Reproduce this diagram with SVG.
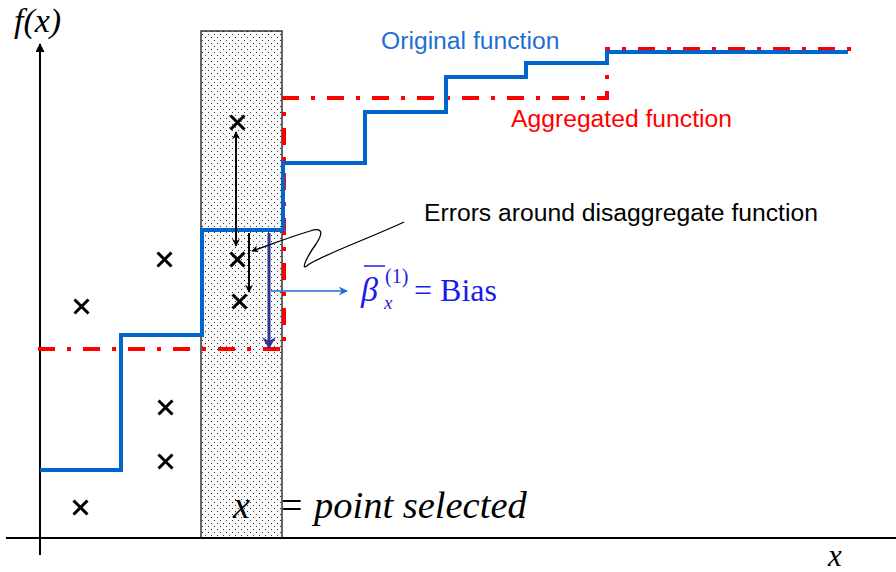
<svg xmlns="http://www.w3.org/2000/svg" width="896" height="572" viewBox="0 0 896 572">
<defs>
<style>
.axis{stroke:#000;stroke-width:2;fill:none}
.orig{stroke:#0066CC;stroke-width:4;fill:none}
.agg{stroke:#FF0000;stroke-width:4;fill:none;stroke-dasharray:17 12 4 12}
.cross{stroke:#000;stroke-width:3;fill:none}
.lbl{font-family:"Liberation Sans",Arial,sans-serif;font-size:24.7px}
.math{font-family:"Liberation Serif","Times New Roman",serif;font-style:italic}
.blk{stroke:#000;stroke-width:2;fill:none}
</style>
<pattern id="dots" width="6" height="6" patternUnits="userSpaceOnUse">
<rect width="6" height="6" fill="#fafafa"/>
<rect x="1" y="1" width="1" height="1" fill="#333"/>
<rect x="4" y="4" width="1" height="1" fill="#333"/>
</pattern>
<marker id="ah" viewBox="0 0 10 10" refX="9" refY="5" markerWidth="10" markerHeight="8" markerUnits="userSpaceOnUse" orient="auto-start-reverse">
<path d="M0,0 L10,5 L0,10 L3,5 z" fill="#000"/>
</marker>
<marker id="ahax" viewBox="0 0 10 10" refX="9" refY="5" markerWidth="12" markerHeight="9" markerUnits="userSpaceOnUse" orient="auto">
<path d="M0,0 L10,5 L0,10 z" fill="#000"/>
</marker>
<marker id="ahnavy" viewBox="0 0 12 14" refX="11" refY="7" markerWidth="18" markerHeight="14" markerUnits="userSpaceOnUse" orient="auto">
<path d="M0,0 L12,7 L0,14 L4,7 z" fill="#333399"/>
</marker>
<marker id="ahblue" viewBox="0 0 10 10" refX="9" refY="5" markerWidth="12" markerHeight="9" markerUnits="userSpaceOnUse" orient="auto">
<path d="M0,0 L10,5 L0,10 L3,5 z" fill="#1F6FD0"/>
</marker>
<marker id="ahthin" viewBox="0 0 10 10" refX="9" refY="5" markerWidth="10" markerHeight="7" markerUnits="userSpaceOnUse" orient="auto">
<path d="M0,0 L10,5 L0,10 L3,5 z" fill="#000"/>
</marker>
</defs>

<rect id="selected-region" x="201" y="31" width="81" height="507" fill="url(#dots)" stroke="#000" stroke-width="1.2"/>

<g id="axes">
<line class="axis" x1="40" y1="555" x2="40" y2="44" marker-end="url(#ahax)"/>
<line class="axis" x1="6" y1="538" x2="896" y2="538"/>
</g>

<g id="aggregated-function">
<polyline class="agg" points="38,349 284,349 284,98 607,98 607,49 854,49"/>
</g>

<g id="original-function">
<polyline class="orig" points="40,470 121,470 121,335 202,335 202,230 283,230 283,163 365,163 365,112 446,112 446,77 526,77 526,63 607,63 607,52 848,52"/>
</g>

<g id="connectors">
<line class="blk" x1="236" y1="132" x2="236" y2="246" marker-start="url(#ah)" marker-end="url(#ah)"/>
<line class="blk" x1="249" y1="233" x2="249" y2="292" marker-end="url(#ah)"/>
<line x1="269" y1="233" x2="269" y2="348" stroke="#333399" stroke-width="3" marker-end="url(#ahnavy)"/>
<line x1="271" y1="291" x2="347" y2="291" stroke="#1F6FD0" stroke-width="1.5" marker-end="url(#ahblue)"/>
<path d="M404 222 C370 238,320 256,308 265 C300 272,306 258,316 244 C324 232,322 227,310 231 C290 237,272 244,252 251" stroke="#000" stroke-width="1.3" fill="none" marker-end="url(#ahthin)"/>
</g>

<g id="points">
<path class="cross" d="M230.5 115.5 L244.5 129.5 M244.5 115.5 L230.5 129.5"/>
<path class="cross" d="M230.5 252.5 L244.5 266.5 M244.5 252.5 L230.5 266.5"/>
<path class="cross" d="M232.5 294.5 L246.5 308.5 M246.5 294.5 L232.5 308.5"/>
<path class="cross" d="M157.5 252.5 L171.5 266.5 M171.5 252.5 L157.5 266.5"/>
<path class="cross" d="M74.5 299.5 L88.5 313.5 M88.5 299.5 L74.5 313.5"/>
<path class="cross" d="M158.5 400.5 L172.5 414.5 M172.5 400.5 L158.5 414.5"/>
<path class="cross" d="M158.5 454.5 L172.5 468.5 M172.5 454.5 L158.5 468.5"/>
<path class="cross" d="M73.5 500.5 L87.5 514.5 M87.5 500.5 L73.5 514.5"/>
</g>

<g id="labels">
<text class="math" x="14" y="32" font-size="34">f(x)</text>
<text class="math" x="828" y="566" font-size="31">x</text>
<text class="lbl" x="381" y="49" fill="#1F6FD0">Original function</text>
<text class="lbl" x="511" y="127" fill="#FF0000">Aggregated function</text>
<text class="lbl" x="424" y="221" fill="#000">Errors around disaggregate function</text>
<g id="bias-label" fill="#1C1CE6" font-family="'Liberation Serif','Times New Roman',serif">
<line x1="364" y1="266" x2="385" y2="266" stroke="#1C1CE6" stroke-width="1.5"/>
<text x="361" y="301" font-size="34" font-style="italic">β</text>
<text x="385" y="283" font-size="20">(1)</text>
<text x="384" y="309" font-size="19" font-style="italic">x</text>
<text x="414" y="301" font-size="32">= Bias</text>
</g>
<text class="math" x="233" y="518" font-size="38">x</text>
<text x="281" y="518" font-size="38" font-family="'Liberation Serif','Times New Roman',serif">=</text>
<text class="math" x="314" y="518" font-size="38.5">point selected</text>
</g>
</svg>
